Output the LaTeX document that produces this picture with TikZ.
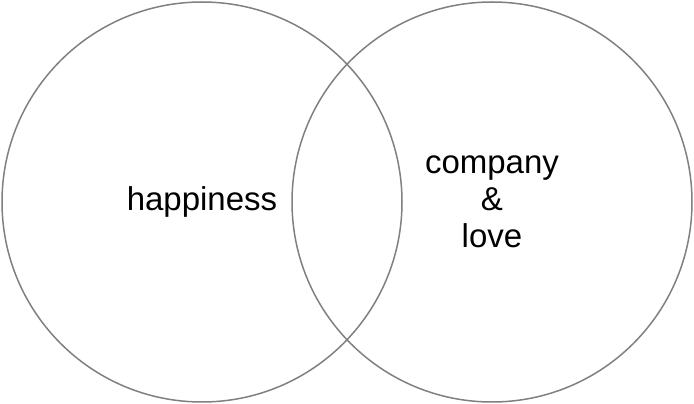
\documentclass[tikz,border=0pt]{standalone}
\usepackage{fontspec}
\setmainfont{Liberation Sans}
\usetikzlibrary{positioning}
\definecolor{ringgray}{HTML}{808080}
\tikzset{ring/.style={circle,draw=ringgray,line width=1.5pt,minimum size=400pt,
  inner sep=0pt,align=center,font=\fontsize{33}{37}\selectfont}}

\begin{document}
\begin{tikzpicture}[x=1pt,y=1pt]
\useasboundingbox (0,0) rectangle (694,404);
\node[ring] (happy) at (202,202) {happiness};
\node[ring] (love) at (492,202) {company\\\&\\love};
\end{tikzpicture}
\end{document}
